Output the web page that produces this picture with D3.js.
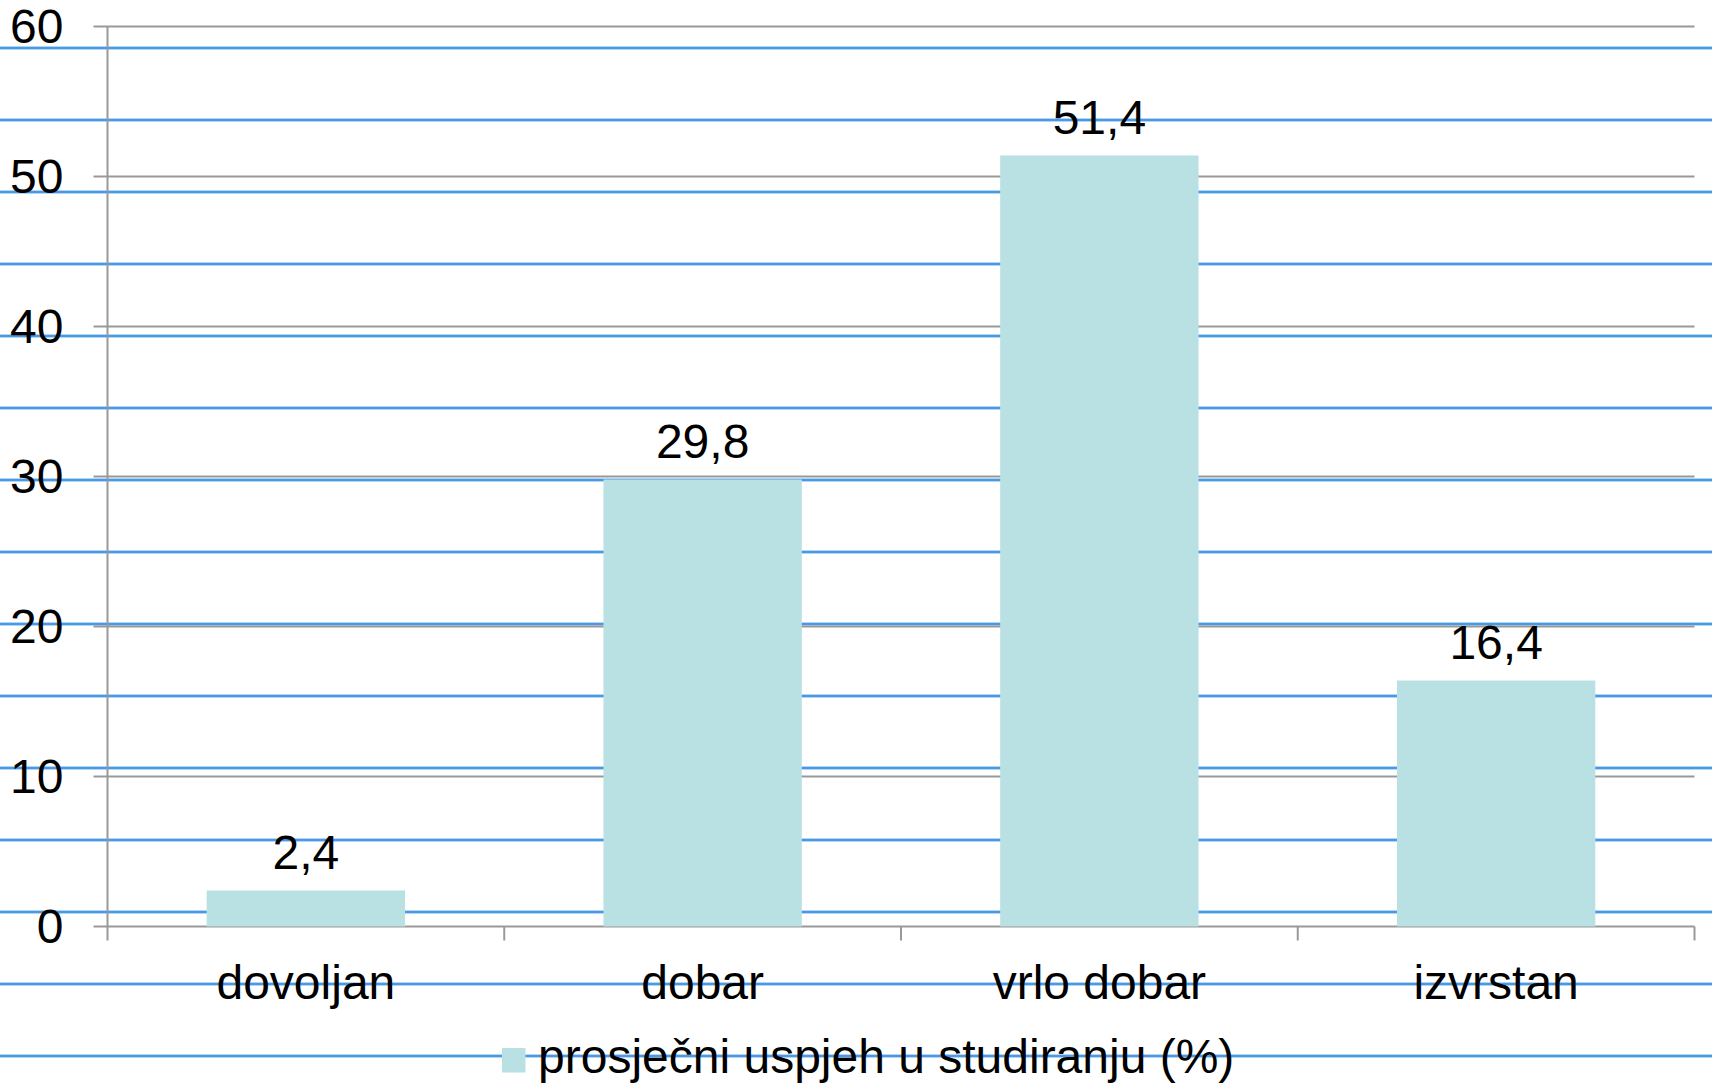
<!DOCTYPE html>
<html>
<head>
<meta charset="utf-8">
<script src="https://cdn.jsdelivr.net/npm/d3@7"></script>
<style>
  html, body { margin: 0; padding: 0; background: #fff; }
  svg text { font-family: "Liberation Sans", Arial, sans-serif; fill: #000; }
</style>
</head>
<body>
<div id="chart"></div>
<script>
var categories = ['dovoljan', 'dobar', 'vrlo dobar', 'izvrstan'];
var values = [2.4, 29.8, 51.4, 16.4];
var value_labels = ['2,4', '29,8', '51,4', '16,4'];
var y_ticks = [0, 10, 20, 30, 40, 50, 60];
var series_name = 'prosječni uspjeh u studiranju (%)';

var svg_w = 1712,
    svg_h = 1086;

var margin = {top: 26.5, left: 107.5, right: 17.5, bottom: 159.5},
    plot_w = svg_w - margin.left - margin.right,
    plot_h = svg_h - margin.top - margin.bottom;

var font_size = 48,
    bar_color = '#b9e0e3',
    grid_color = '#999999';

var svg = d3.select('#chart').append('svg')
    .attr('width', svg_w)
    .attr('height', svg_h);

// ruled paper lines behind everything
var paper_lines = d3.range(48, svg_h, 72);
var g_paper = svg.append('g');
g_paper.selectAll('line.light')
  .data(paper_lines)
  .enter().append('line')
    .attr('x1', 0).attr('x2', svg_w)
    .attr('y1', function(d) { return d; })
    .attr('y2', function(d) { return d; })
    .attr('stroke', '#b3d5f5')
    .attr('stroke-width', 4);
g_paper.selectAll('line.dark')
  .data(paper_lines)
  .enter().append('line')
    .attr('x1', 0).attr('x2', svg_w)
    .attr('y1', function(d) { return d; })
    .attr('y2', function(d) { return d; })
    .attr('stroke', '#4a98e6')
    .attr('stroke-width', 2);

var g = svg.append('g')
    .attr('transform', 'translate(' + margin.left + ',' + margin.top + ')');

var x = d3.scaleBand()
    .domain(categories)
    .range([0, plot_w])
    .paddingInner(0.5)
    .paddingOuter(0.25);

var y = d3.scaleLinear()
    .domain([0, 60])
    .range([plot_h, 0]);

// gridlines
g.append('g')
    .selectAll('line')
    .data(y_ticks)
    .enter().append('line')
      .attr('x1', -14)
      .attr('x2', plot_w)
      .attr('y1', function(d) { return y(d); })
      .attr('y2', function(d) { return y(d); })
      .attr('stroke', grid_color)
      .attr('stroke-width', 2);

// y axis
var y_axis = g.append('g')
    .call(d3.axisLeft(y).tickValues(y_ticks).tickSize(0).tickPadding(44));
y_axis.select('.domain').remove();
y_axis.selectAll('text')
    .style('font-size', font_size + 'px')
    .style('font-family', '"Liberation Sans", Arial, sans-serif')
    .attr('dy', '0.34em');

g.append('line')
    .attr('x1', 0).attr('x2', 0)
    .attr('y1', 0).attr('y2', plot_h + 14)
    .attr('stroke', grid_color)
    .attr('stroke-width', 2);

// category boundary ticks
var step = x.step();
g.append('g')
    .selectAll('line')
    .data(categories)
    .enter().append('line')
      .attr('x1', function(d) { return x(d) - x.bandwidth() / 2 + step; })
      .attr('x2', function(d) { return x(d) - x.bandwidth() / 2 + step; })
      .attr('y1', plot_h)
      .attr('y2', plot_h + 14)
      .attr('stroke', grid_color)
      .attr('stroke-width', 2);

// bars
g.selectAll('rect.bar')
  .data(values)
  .enter().append('rect')
    .attr('class', 'bar')
    .attr('x', function(d, i) { return x(categories[i]); })
    .attr('y', function(d) { return y(d); })
    .attr('width', x.bandwidth())
    .attr('height', function(d) { return plot_h - y(d); })
    .attr('fill', bar_color);

// value labels
g.selectAll('text.val')
  .data(values)
  .enter().append('text')
    .attr('class', 'val')
    .attr('text-anchor', 'middle')
    .attr('x', function(d, i) { return x(categories[i]) + x.bandwidth() / 2; })
    .attr('y', function(d) { return y(d) - 21.5; })
    .attr('font-size', font_size)
    .text(function(d, i) { return value_labels[i]; });

// category labels
g.selectAll('text.cat')
  .data(categories)
  .enter().append('text')
    .attr('class', 'cat')
    .attr('text-anchor', 'middle')
    .attr('x', function(d) { return x(d) + x.bandwidth() / 2; })
    .attr('y', plot_h + 72)
    .attr('font-size', font_size)
    .text(function(d) { return d; });

// legend
var g_legend = svg.append('g');
g_legend.append('rect')
    .attr('x', 502)
    .attr('y', 1048)
    .attr('width', 23.5)
    .attr('height', 24.5)
    .attr('fill', bar_color);
g_legend.append('text')
    .attr('x', 538)
    .attr('y', 1072.5)
    .attr('font-size', font_size)
    .text(series_name);
</script>
</body>
</html>
